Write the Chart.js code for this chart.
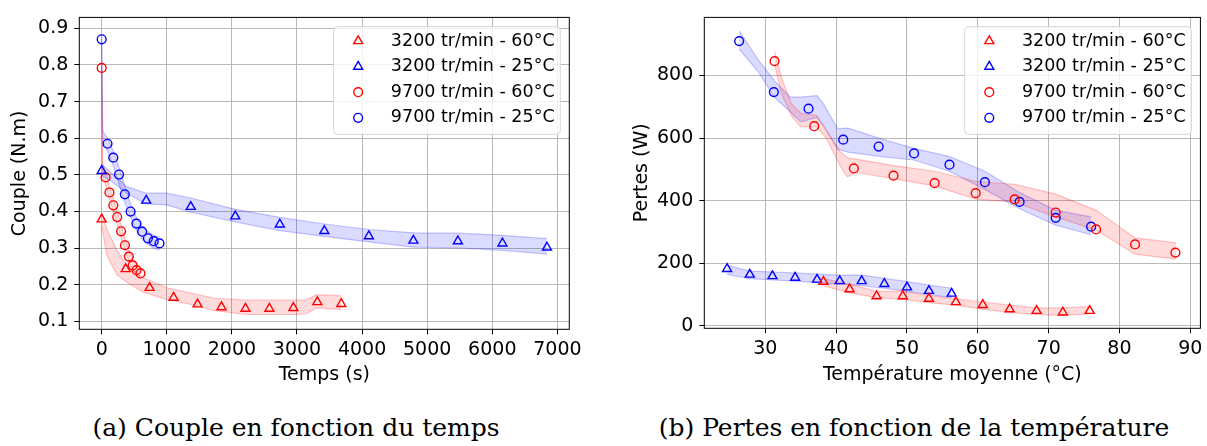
<!DOCTYPE html>
<html lang="fr">
<head>
<meta charset="utf-8">
<title>Couple et pertes</title>
<script src="https://cdn.jsdelivr.net/npm/chart.js@4.4.1/dist/chart.umd.min.js"></script>
<style>
  body { margin: 0; background: #fff; width: 1207px; height: 446px; overflow: hidden; position: relative; }
  canvas { position: absolute; top: 0; }
  #graphCouple { left: 0; }
  #graphPertes { left: 600px; }
  .legende { position: absolute; top: 413px; font: 25px "DejaVu Serif"; line-height: 30px; white-space: nowrap; transform: translateX(-50%); color: #000; }
</style>
</head>
<body>
<canvas id="graphCouple" width="600" height="400"></canvas>
<canvas id="graphPertes" width="607" height="400"></canvas>
<div class="legende" style="left:296px">(a) Couple en fonction du temps</div>
<div class="legende" style="left:914px">(b) Pertes en fonction de la température</div>
<script>
const ROUGE = 'rgb(255,0,0)';
const BLEU = 'rgb(0,0,255)';
const libelles = ['3200 tr/min - 60°C', '3200 tr/min - 25°C', '9700 tr/min - 60°C', '9700 tr/min - 25°C'];

// graduations
const gradTemps = [0, 1000, 2000, 3000, 4000, 5000, 6000, 7000];
const gradCouple = [0.1, 0.2, 0.3, 0.4, 0.5, 0.6, 0.7, 0.8, 0.9];
const gradTemperature = [30, 40, 50, 60, 70, 80, 90];
const gradPertes = [0, 200, 400, 600, 800];

// (a) Couple (N.m) en fonction du temps (s)
const tempsTri60 = [0, 368, 736, 1104, 1472, 1840, 2208, 2576, 2944, 3312, 3680];
const coupleTri60 = [0.379, 0.243, 0.192, 0.165, 0.147, 0.139, 0.135, 0.135, 0.137, 0.153, 0.148];
const tempsTri25 = [0, 684, 1368, 2052, 2736, 3420, 4104, 4788, 5472, 6156, 6840];
const coupleTri25 = [0.511, 0.430, 0.413, 0.387, 0.365, 0.347, 0.333, 0.321, 0.319, 0.313, 0.302];
const tempsCirc60 = [0, 60, 119, 179, 238, 298, 357, 417, 476, 536, 595];
const coupleCirc60 = [0.792, 0.493, 0.452, 0.417, 0.385, 0.346, 0.308, 0.277, 0.253, 0.240, 0.231];
const tempsCirc25 = [0, 89, 178, 266, 355, 444, 533, 621, 710, 799, 888];
const coupleCirc25 = [0.870, 0.585, 0.547, 0.501, 0.447, 0.400, 0.367, 0.345, 0.327, 0.319, 0.313];

// bandes (a)
const bTempsTri60 = [0, 77, 231, 368, 641, 1000, 1359, 1708, 2220, 2990, 3144, 3297, 3680];
const bHautTri60 = [0.397, 0.354, 0.294, 0.258, 0.219, 0.192, 0.178, 0.164, 0.158, 0.158, 0.159, 0.173, 0.170];
const bBasTri60 = [0.361, 0.281, 0.228, 0.209, 0.180, 0.160, 0.147, 0.130, 0.119, 0.119, 0.121, 0.137, 0.133];
const bTempsTri25 = [0, 128, 385, 684, 1000, 1368, 2052, 2736, 3420, 4104, 4788, 5472, 6156, 6840];
const bHautTri25 = [0.530, 0.508, 0.468, 0.450, 0.450, 0.437, 0.406, 0.384, 0.366, 0.351, 0.342, 0.341, 0.335, 0.326];
const bBasTri25 = [0.499, 0.485, 0.450, 0.421, 0.418, 0.398, 0.372, 0.348, 0.332, 0.317, 0.303, 0.301, 0.294, 0.284];
const bTempsCirc60 = [0, 12, 60, 119, 179, 238, 298, 357, 417, 476, 536, 595];
const bHautCirc60 = [0.795, 0.530, 0.510, 0.470, 0.435, 0.400, 0.365, 0.325, 0.295, 0.270, 0.255, 0.245];
const bBasCirc60 = [0.785, 0.495, 0.475, 0.435, 0.400, 0.365, 0.330, 0.295, 0.265, 0.240, 0.228, 0.220];
const bTempsCirc25 = [0, 15, 89, 178, 266, 355, 444, 533, 621, 710, 799, 888];
const bHautCirc25 = [0.880, 0.620, 0.600, 0.565, 0.520, 0.470, 0.420, 0.385, 0.360, 0.345, 0.335, 0.330];
const bBasCirc25 = [0.865, 0.590, 0.565, 0.525, 0.475, 0.425, 0.385, 0.350, 0.325, 0.310, 0.300, 0.295];

// (b) Pertes (W) en fonction de la température moyenne (°C)
const tempTri60 = [38.2, 41.9, 45.7, 49.4, 53.1, 56.9, 60.7, 64.5, 68.3, 72.0, 75.8];
const pertesTri60 = [141, 117, 95, 95, 87, 76, 67, 53, 48, 43, 48];
const tempTri25 = [24.6, 27.8, 31.0, 34.2, 37.3, 40.5, 43.6, 46.8, 50.0, 53.1, 56.3];
const pertesTri25 = [182, 164, 159, 154, 148, 143, 143, 134, 123, 112, 103];
const tempCirc60 = [31.3, 36.9, 42.5, 48.1, 53.9, 59.7, 65.2, 71.0, 76.7, 82.2, 87.9];
const pertesCirc60 = [846, 638, 503, 480, 456, 424, 404, 362, 308, 260, 234];
const tempCirc25 = [26.3, 31.2, 36.1, 41.0, 46.0, 51.0, 56.0, 61.0, 65.9, 71.0, 76.0];
const pertesCirc25 = [910, 747, 694, 595, 573, 551, 515, 459, 396, 345, 317];

// bandes (b)
const bTempTri60 = [38.2, 41.9, 45.7, 49.4, 53.1, 56.9, 60.7, 64.5, 68.3, 72.0, 75.8];
const bHautPTri60 = [151, 133, 110, 110, 97, 86, 76, 66, 57, 57, 61];
const bBasPTri60 = [128, 105, 90, 84, 74, 66, 53, 43, 36, 33, 38];
const bTempTri25 = [24.6, 27.8, 31.0, 34.2, 37.3, 40.5, 43.6, 46.8, 50.0, 53.1, 56.3];
const bHautPTri25 = [193, 175, 172, 169, 165, 162, 162, 152, 141, 130, 120];
const bBasPTri25 = [164, 151, 147, 143, 138, 133, 128, 120, 110, 100, 90];
const bTempCirc60 = [31.3, 32.3, 33.7, 35.0, 37.2, 38.6, 40.6, 41.6, 42.8, 48.1, 53.9, 59.7, 65.2, 71.0, 76.7, 82.2, 88.0];
const bHautPCirc60 = [877, 792, 709, 680, 673, 624, 556, 537, 533, 512, 494, 462, 452, 421, 369, 281, 265];
const bBasPCirc60 = [835, 740, 671, 636, 636, 600, 510, 476, 490, 470, 447, 405, 395, 348, 306, 229, 213];
const bTempCirc25 = [26.3, 29.0, 31.3, 33.5, 35.0, 37.3, 38.2, 40.2, 41.7, 46.3, 51.0, 56.0, 61.0, 65.9, 71.0, 76.0];
const bHautPCirc25 = [943, 850, 783, 731, 731, 736, 710, 630, 632, 598, 567, 541, 494, 426, 369, 348];
const bBasPCirc25 = [885, 812, 730, 684, 652, 666, 641, 564, 555, 541, 530, 494, 436, 374, 322, 291];

Chart.defaults.font.family = '"DejaVu Sans"';
Chart.defaults.font.size = 19;
Chart.defaults.color = '#000';

function points(xs, ys) {
    return xs.map((x, i) => ({ x: x, y: ys[i] }));
}

function serie(label, xs, ys, couleur, forme) {
    return {
        label: label,
        data: points(xs, ys),
        showLine: false,
        pointStyle: forme,
        pointRadius: forme === 'triangle' ? 5.2 : 4.4,
        pointBorderWidth: 1.4,
        borderColor: couleur,
        pointBorderColor: couleur,
        backgroundColor: 'rgba(0,0,0,0)',
        pointBackgroundColor: 'rgba(0,0,0,0)',
        order: 0,
        enLegende: true
    };
}

function bande(xs, haut, bas, rgb) {
    const bord = 'rgba(' + rgb + ',0.22)';
    const fond = 'rgba(' + rgb + ',0.14)';
    return [
        { data: points(xs, haut), showLine: true, pointRadius: 0, borderColor: bord, borderWidth: 1.2, fill: false, order: 1 },
        { data: points(xs, bas), showLine: true, pointRadius: 0, borderColor: bord, borderWidth: 1.2, backgroundColor: fond, fill: '-1', order: 1 }
    ];
}

// cadre + légende dans la zone du graphe (comme matplotlib)
const legendeInterne = {
    id: 'legendeInterne',
    afterDatasetsDraw(chart) {
        const ctx = chart.ctx;
        const zone = chart.chartArea;
        ctx.save();
        ctx.strokeStyle = '#000';
        ctx.lineWidth = 1;
        ctx.strokeRect(zone.left, zone.top, zone.right - zone.left, zone.bottom - zone.top);

        const entrees = chart.data.datasets.filter(d => d.enLegende);
        ctx.font = '17.5px "DejaVu Sans"';
        const largeur = Math.max(...entrees.map(d => ctx.measureText(d.label).width)) + 63;
        const droite = zone.right - 9;
        const gauche = droite - largeur;
        const haut = zone.top + 9.3;
        ctx.beginPath();
        ctx.roundRect(gauche, haut, largeur, 107.7, 4);
        ctx.fillStyle = 'rgba(255,255,255,0.8)';
        ctx.fill();
        ctx.strokeStyle = '#d6d6d6';
        ctx.stroke();

        entrees.forEach((d, i) => {
            const y = haut + 14.3 + i * 25.6;
            const x = gauche + 24.6;
            const r = d.pointRadius;
            ctx.strokeStyle = d.borderColor;
            ctx.lineWidth = d.pointBorderWidth;
            ctx.beginPath();
            if (d.pointStyle === 'triangle') {
                ctx.moveTo(x, y - r);
                ctx.lineTo(x + r * Math.sin(Math.PI * 2 / 3), y + r * 0.5);
                ctx.lineTo(x - r * Math.sin(Math.PI * 2 / 3), y + r * 0.5);
                ctx.closePath();
            } else {
                ctx.arc(x, y, r, 0, Math.PI * 2);
            }
            ctx.stroke();
            ctx.fillStyle = '#000';
            ctx.textBaseline = 'middle';
            ctx.textAlign = 'left';
            ctx.fillText(d.label, gauche + 57.3, y);
        });
        ctx.restore();
    }
};

function axe(titre, min, max, graduations, format, padTitre, taille, horizontal) {
    return {
        type: 'linear',
        min: min,
        max: max,
        title: { display: true, text: titre, font: { size: 19 }, padding: horizontal ? { bottom: 0, top: 0 } : { top: padTitre, bottom: 0 } },
        ticks: { callback: format, padding: horizontal ? 4 : 6, maxRotation: 0, autoSkip: false },
        afterBuildTicks: s => { s.ticks = graduations.map(v => ({ value: v })); },
        grid: { color: '#b0b0b0', lineWidth: 0.9, tickColor: '#000', tickLength: 5, tickWidth: 1 },
        border: { display: false },
        afterFit: s => { if (horizontal) s.height = taille; else s.width = taille; }
    };
}

function creerGraphe(id, jeux, echelles, marges) {
    return new Chart(document.getElementById(id), {
        type: 'scatter',
        data: { datasets: jeux },
        options: {
            responsive: false,
            animation: false,
            events: [],
            layout: { padding: marges },
            plugins: { legend: { display: false }, tooltip: { enabled: false } },
            scales: echelles
        },
        plugins: [legendeInterne]
    });
}

creerGraphe('graphCouple', [
    serie(libelles[0], tempsTri60, coupleTri60, ROUGE, 'triangle'),
    serie(libelles[1], tempsTri25, coupleTri25, BLEU, 'triangle'),
    serie(libelles[2], tempsCirc60, coupleCirc60, ROUGE, 'circle'),
    serie(libelles[3], tempsCirc25, coupleCirc25, BLEU, 'circle'),
    ...bande(bTempsTri60, bHautTri60, bBasTri60, '255,0,0'),
    ...bande(bTempsTri25, bHautTri25, bBasTri25, '0,0,255'),
    ...bande(bTempsCirc60, bHautCirc60, bBasCirc60, '255,0,0'),
    ...bande(bTempsCirc25, bHautCirc25, bBasCirc25, '0,0,255')
], {
    x: axe('Temps (s)', -344, 7183, gradTemps, v => String(v), 0, 57.1, true),
    y: axe('Couple (N.m)', 0.0786, 0.9298, gradCouple, v => v.toFixed(1), 9.1, 79.3, false)
}, { left: 0, right: 30.7, top: 10.7, bottom: 13.6 });

creerGraphe('graphPertes', [
    serie(libelles[0], tempTri60, pertesTri60, ROUGE, 'triangle'),
    serie(libelles[1], tempTri25, pertesTri25, BLEU, 'triangle'),
    serie(libelles[2], tempCirc60, pertesCirc60, ROUGE, 'circle'),
    serie(libelles[3], tempCirc25, pertesCirc25, BLEU, 'circle'),
    ...bande(bTempTri60, bHautPTri60, bBasPTri60, '255,0,0'),
    ...bande(bTempTri25, bHautPTri25, bBasPTri25, '0,0,255'),
    ...bande(bTempCirc60, bHautPCirc60, bBasPCirc60, '255,0,0'),
    ...bande(bTempCirc25, bHautPCirc25, bBasPCirc25, '0,0,255')
], {
    x: axe('Température moyenne (°C)', 21.38, 91.43, gradTemperature, v => String(v), 0, 58.1, true),
    y: axe('Pertes (W)', -8, 985.8, gradPertes, v => String(v), 30.6, 104.3, false)
}, { left: 0, right: 6.4, top: 7.3, bottom: 13.6 });
</script>
</body>
</html>
